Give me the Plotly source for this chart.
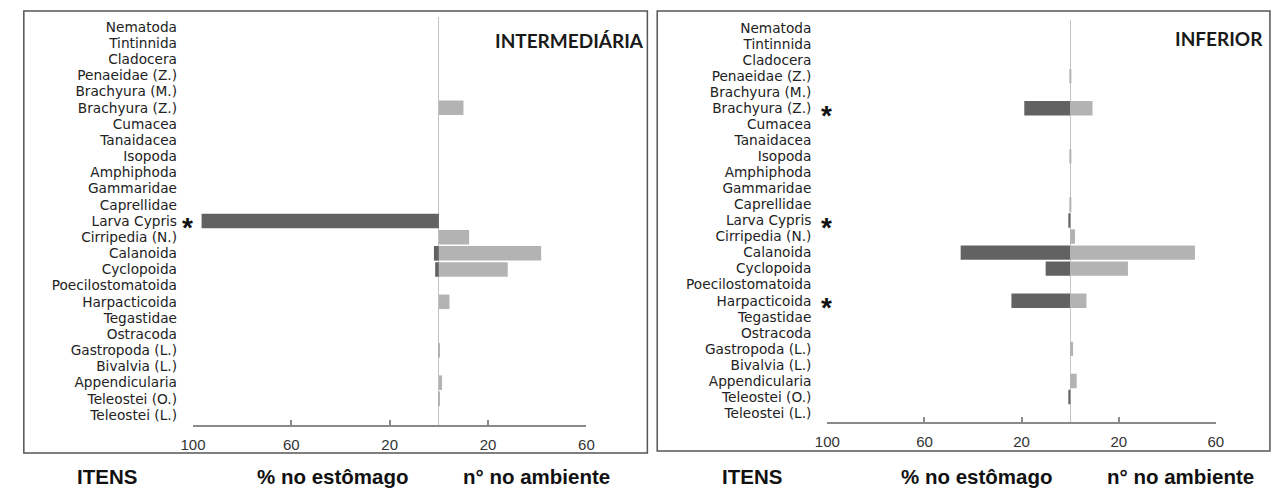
import plotly.graph_objects as go

W, H = 1275, 489

categories = [
    "Nematoda", "Tintinnida", "Cladocera", "Penaeidae (Z.)", "Brachyura (M.)",
    "Brachyura (Z.)", "Cumacea", "Tanaidacea", "Isopoda", "Amphiphoda",
    "Gammaridae", "Caprellidae", "Larva Cypris", "Cirripedia (N.)", "Calanoida",
    "Cyclopoida", "Poecilostomatoida", "Harpacticoida", "Tegastidae", "Ostracoda",
    "Gastropoda (L.)", "Bivalvia (L.)", "Appendicularia", "Teleostei (O.)", "Teleostei (L.)",
]

# INTERMEDIÁRIA panel
inter_stomach = [0, 0, 0, 0, 0, 0, 0, 0, 0, 0, 0, 0, 96.5, 0, 2.0, 1.5, 0, 0, 0, 0, 0, 0, 0, 0, 0]
inter_env = [0, 0, 0, 0, 0, 10.0, 0, 0, 0, 0, 0, 0, 0, 12.3, 41.6, 28.0, 0, 4.3, 0, 0, 0.4, 0, 1.3, 0.3, 0]
inter_stars = ["Larva Cypris"]

# INFERIOR panel
infer_stomach = [0, 0, 0, 0, 0, 18.9, 0, 0, 0, 0, 0, 0, 0.6, 0, 45.1, 10.1, 0, 24.2, 0, 0, 0, 0, 0, 0.7, 0]
infer_env = [0, 0, 0, 0.3, 0, 9.2, 0, 0, 0.3, 0, 0, 0.3, 0, 2.0, 51.4, 23.8, 0, 6.7, 0, 0, 1.2, 0, 2.7, 0, 0]
infer_stars = ["Brachyura (Z.)", "Larva Cypris", "Harpacticoida"]

tick_vals = [-100, -60, -20, 20, 60]
tick_text = ["100", "60", "20", "20", "60"]

DARK = "#626262"
LIGHT = "#b3b3b3"
FONT = "Liberation Sans, Arial, sans-serif"
LABEL_FONT = "DejaVu Sans, Liberation Sans, sans-serif"


def px(x):
    return x / W


def py(y):
    return 1 - y / H


fig = go.Figure()

fig.add_trace(go.Bar(y=categories, x=[-v for v in inter_stomach], orientation="h",
                     marker=dict(color=DARK, line=dict(width=0)), xaxis="x", yaxis="y",
                     showlegend=False))
fig.add_trace(go.Bar(y=categories, x=inter_env, orientation="h",
                     marker=dict(color=LIGHT, line=dict(width=0)), xaxis="x", yaxis="y",
                     showlegend=False))
fig.add_trace(go.Bar(y=categories, x=[-v for v in infer_stomach], orientation="h",
                     marker=dict(color=DARK, line=dict(width=0)), xaxis="x2", yaxis="y2",
                     showlegend=False))
fig.add_trace(go.Bar(y=categories, x=infer_env, orientation="h",
                     marker=dict(color=LIGHT, line=dict(width=0)), xaxis="x2", yaxis="y2",
                     showlegend=False))

xax = dict(range=[-100, 60], tickmode="array", tickvals=tick_vals, ticktext=tick_text,
           showline=True, linecolor="#8a8a8a", linewidth=1.5,
           ticks="inside", ticklen=5, tickwidth=1.5, tickcolor="#8a8a8a",
           ticklabelstandoff=5,
           showgrid=False, zeroline=True, zerolinecolor="#c4c4c4", zerolinewidth=1,
           tickfont=dict(family=FONT, size=15, color="#333333"), fixedrange=True)
yax = dict(type="category", categoryorder="array", categoryarray=categories,
           tickmode="linear", tick0=0, dtick=1,
           showline=False, showgrid=False, zeroline=False, ticks="",
           ticklabelstandoff=15,
           tickfont=dict(family=LABEL_FONT, size=13.7, color="#222222"), fixedrange=True)

fig.update_layout(
    width=W, height=H, autosize=False,
    margin=dict(l=0, r=0, t=0, b=0),
    paper_bgcolor="white", plot_bgcolor="white",
    barmode="relative", bargap=0.1,
    xaxis=dict(xax, domain=[px(183), px(583)], anchor="y"),
    yaxis=dict(yax, domain=[py(425), py(17)], range=[24.62, -0.62], anchor="x"),
    xaxis2=dict(xax, domain=[px(828), px(1223)], anchor="y2"),
    yaxis2=dict(yax, domain=[py(422), py(20)], range=[24.56, -0.5], anchor="x2"),
)

shapes = [
    dict(type="rect", xref="paper", yref="paper", x0=px(11), x1=px(645), y0=py(453), y1=py(11),
         line=dict(color="#555555", width=1.5), fillcolor="rgba(0,0,0,0)"),
    dict(type="rect", xref="paper", yref="paper", x0=px(655), x1=px(1278), y0=py(451), y1=py(11),
         line=dict(color="#555555", width=1.5), fillcolor="rgba(0,0,0,0)"),
]
fig.update_layout(shapes=shapes)

ann = []
# panel titles
ann.append(dict(text="<b>INTERMEDIÁRIA</b>", xref="paper", yref="paper", x=px(644), y=py(40),
                xanchor="right", yanchor="middle", showarrow=False,
                font=dict(family="Lato, sans-serif", size=19, color="#1a1a1a")))
ann.append(dict(text="<b>INFERIOR</b>", xref="paper", yref="paper", x=px(1273), y=py(38),
                xanchor="right", yanchor="middle", showarrow=False,
                font=dict(family="Lato, sans-serif", size=19, color="#1a1a1a")))

# asterisks
for c in inter_stars:
    ann.append(dict(text="<b>*</b>", xref="paper", yref="y", x=px(177), y=c,
                    xanchor="center", yanchor="middle", yshift=-7, showarrow=False,
                    font=dict(family=FONT, size=28, color="#111111")))
for c in infer_stars:
    ann.append(dict(text="<b>*</b>", xref="paper", yref="y2", x=px(827), y=c,
                    xanchor="center", yanchor="middle", yshift=-7, showarrow=False,
                    font=dict(family=FONT, size=28, color="#111111")))

# bottom labels
bottom = [("ITENS", 96), ("% no estômago", 325), ("n° no ambiente", 532),
          ("ITENS", 751), ("% no estômago", 980), ("n° no ambiente", 1187)]
for t, xc in bottom:
    ann.append(dict(text="<b>%s</b>" % t, xref="paper", yref="paper", x=px(xc), y=py(476),
                    xanchor="center", yanchor="middle", showarrow=False,
                    font=dict(family=FONT, size=20.5, color="#111111")))

fig.update_layout(annotations=ann)

fig.write_html("out.html")
